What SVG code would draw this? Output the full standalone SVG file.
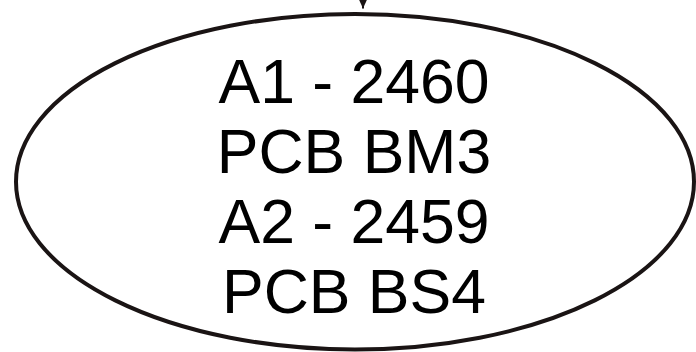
<svg xmlns="http://www.w3.org/2000/svg" width="696" height="352" viewBox="0 0 696 352">
<style>
.node-shape{fill:#ffffff;stroke:#1a1414;stroke-width:4}
.label{font-family:"Liberation Sans",Arial,sans-serif;font-size:62.5px;fill:#000000;text-anchor:middle}
.conn{stroke:#1a1414;stroke-width:2;fill:none}
</style>
<defs>
<marker id="arrow" markerWidth="10" markerHeight="10" refX="10" refY="4.5" orient="auto" markerUnits="userSpaceOnUse">
<path d="M0,0 L10,4.5 L0,9 Z" fill="#1a1414"/>
</marker>
</defs>
<rect width="696" height="352" fill="#ffffff"/>
<g id="node-pcb">
<ellipse class="node-shape" cx="355" cy="181.75" rx="339" ry="167.75"/>
<text class="label" x="354" y="103">A1 - 2460</text>
<text class="label" x="354" y="173">PCB BM3</text>
<text class="label" x="354" y="243">A2 - 2459</text>
<text class="label" x="354" y="313">PCB BS4</text>
</g>
<g id="connectors">
<line class="conn" x1="363" y1="-40" x2="363" y2="8.5" marker-end="url(#arrow)"/>
</g>
</svg>
